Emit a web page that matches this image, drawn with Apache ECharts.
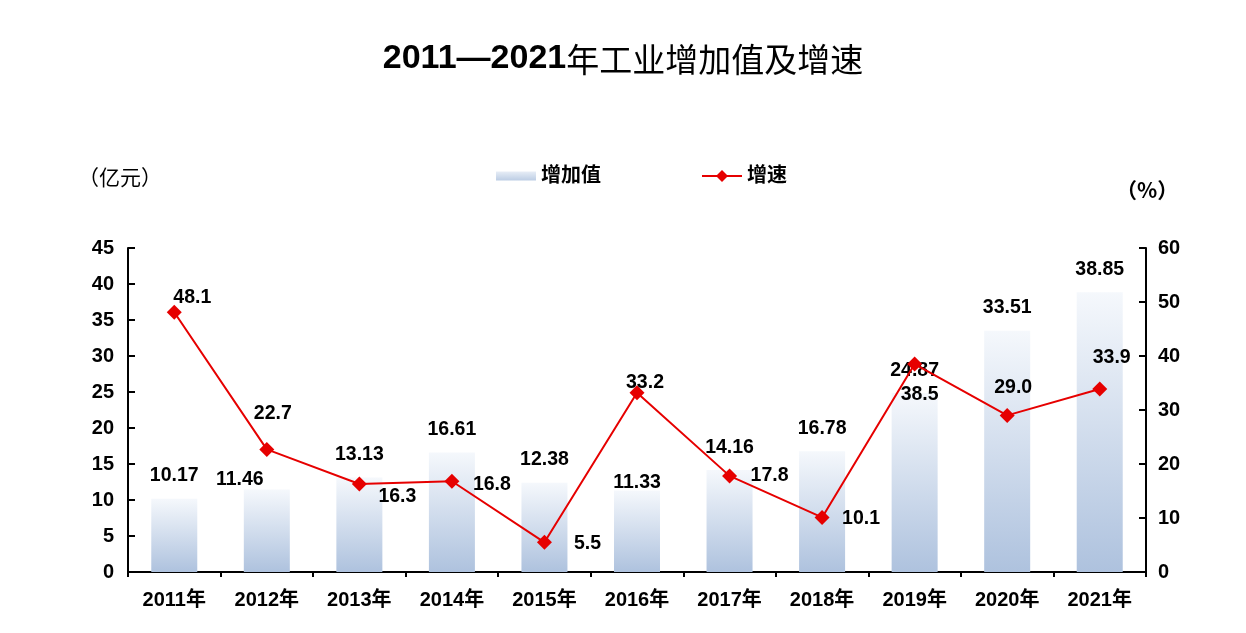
<!DOCTYPE html>
<html>
<head>
<meta charset="utf-8">
<script src="https://cdn.jsdelivr.net/npm/echarts@6/dist/echarts.min.js"></script>
<style>
html,body{margin:0;padding:0;background:#fff;}
#chart{width:1246px;height:633px;}
</style>
</head>
<body>
<div id="chart"></div>
<script>
// ---- data ----
const categories = ['2011年','2012年','2013年','2014年','2015年','2016年','2017年','2018年','2019年','2020年','2021年'];
const valueAdded = [10.17, 11.46, 13.13, 16.61, 12.38, 11.33, 14.16, 16.78, 24.87, 33.51, 38.85];
const growthRate = [48.1, 22.7, 16.3, 16.8, 5.5, 33.2, 17.8, 10.1, 38.5, 29.0, 33.9];
const leftAxis = { min: 0, max: 45, interval: 5 };
const rightAxis = { min: 0, max: 60, interval: 10 };
const seriesNames = ['增加值', '增速'];
const titleParts = ['2011—2021', '年工业增加值及增速'];
const unitLabels = ['（亿元）', '（%）'];

// ---- label placement (style) ----
const barLabelShift = { 1: [-27, 13], 5: [0, 15] };
const lineLabelShift = [[18,-15],[6,-36],[38,13],[40,3],[43,1],[8,-10],[40,0],[39,1],[5,31],[6,-28],[12,-31]];

const FF = '"Liberation Sans", Arial, "Noto Sans CJK SC", sans-serif';
const chart = echarts.init(document.getElementById('chart'), null, { renderer: 'canvas' });

const barGradient = new echarts.graphic.LinearGradient(0, 0, 0, 1, [
  { offset: 0, color: '#f5f8fc' },
  { offset: 1, color: '#aec2de' }
]);

const option = {
  animation: false,
  backgroundColor: '#fff',
  title: {
    text: '{a|' + titleParts[0] + '}{b|' + titleParts[1] + '}',
    left: 'center',
    top: 37,
    textStyle: {
      rich: {
        a: { fontFamily: FF, fontWeight: 'bold', fontSize: 34, color: '#000' },
        b: { fontFamily: '"Noto Sans CJK SC", sans-serif', fontWeight: 'normal', fontSize: 33, color: '#000' }
      }
    }
  },
  legend: {
    data: [
      { name: seriesNames[0], icon: 'path://M0,0 M0,3 L40,3 L40,12 L0,12 Z M40,15' },
      { name: seriesNames[1] }
    ],
    left: 491,
    top: 161,
    itemWidth: 40,
    itemHeight: 15,
    itemGap: 100,
    textStyle: { fontFamily: FF, fontSize: 20, fontWeight: 'bold', color: '#000' }
  },
  graphic: [
    { type: 'text', left: 78, top: 167, style: { text: unitLabels[0], font: 'normal 21px "Noto Sans CJK SC", sans-serif', fill: '#000' } },
    { type: 'text', left: 1116, top: 180, style: { text: unitLabels[1], font: 'bold 21px "Noto Sans CJK SC", sans-serif', fill: '#000' } }
  ],
  grid: { left: 128, right: 100, top: 248, bottom: 61 },
  xAxis: {
    type: 'category',
    data: categories,
    axisLine: { lineStyle: { color: '#000', width: 2 } },
    axisTick: { show: true, length: 5, lineStyle: { color: '#000', width: 2 } },
    axisLabel: { color: '#000', fontFamily: FF, fontSize: 20, fontWeight: 'bold', margin: 18 }
  },
  yAxis: [
    {
      type: 'value', min: leftAxis.min, max: leftAxis.max, interval: leftAxis.interval,
      axisLine: { show: true, lineStyle: { color: '#000', width: 2 } },
      axisTick: { show: true, inside: true, length: 7, lineStyle: { color: '#000', width: 2 } },
      splitLine: { show: false },
      axisLabel: { color: '#000', fontFamily: FF, fontSize: 20, fontWeight: 'bold', margin: 14 }
    },
    {
      type: 'value', position: 'right', min: rightAxis.min, max: rightAxis.max, interval: rightAxis.interval,
      axisLine: { show: true, lineStyle: { color: '#000', width: 2 } },
      axisTick: { show: true, inside: true, length: 7, lineStyle: { color: '#000', width: 2 } },
      splitLine: { show: false },
      axisLabel: { color: '#000', fontFamily: FF, fontSize: 20, fontWeight: 'bold', margin: 12 }
    }
  ],
  series: [
    {
      name: seriesNames[0],
      type: 'bar',
      barWidth: 46,
      itemStyle: { color: barGradient },
      data: valueAdded.map((v, i) => ({
        value: v,
        label: barLabelShift[i] ? { offset: barLabelShift[i] } : undefined
      })),
      label: {
        show: true, position: 'top', distance: 13,
        color: '#000', fontFamily: FF, fontSize: 19.5, fontWeight: 'bold',
        formatter: p => p.value.toFixed(2)
      },
      z: 1
    },
    {
      name: seriesNames[1],
      type: 'line',
      yAxisIndex: 1,
      symbol: 'diamond',
      symbolSize: 15,
      itemStyle: { color: '#e60000' },
      lineStyle: { color: '#e60000', width: 2 },
      data: growthRate.map((v, i) => ({ value: v, label: { offset: lineLabelShift[i] } })),
      label: {
        show: true, position: 'inside',
        color: '#000', fontFamily: FF, fontSize: 19.5, fontWeight: 'bold',
        formatter: p => p.value.toFixed(1)
      },
      z: 3
    }
  ]
};
chart.setOption(option);
</script>
</body>
</html>
